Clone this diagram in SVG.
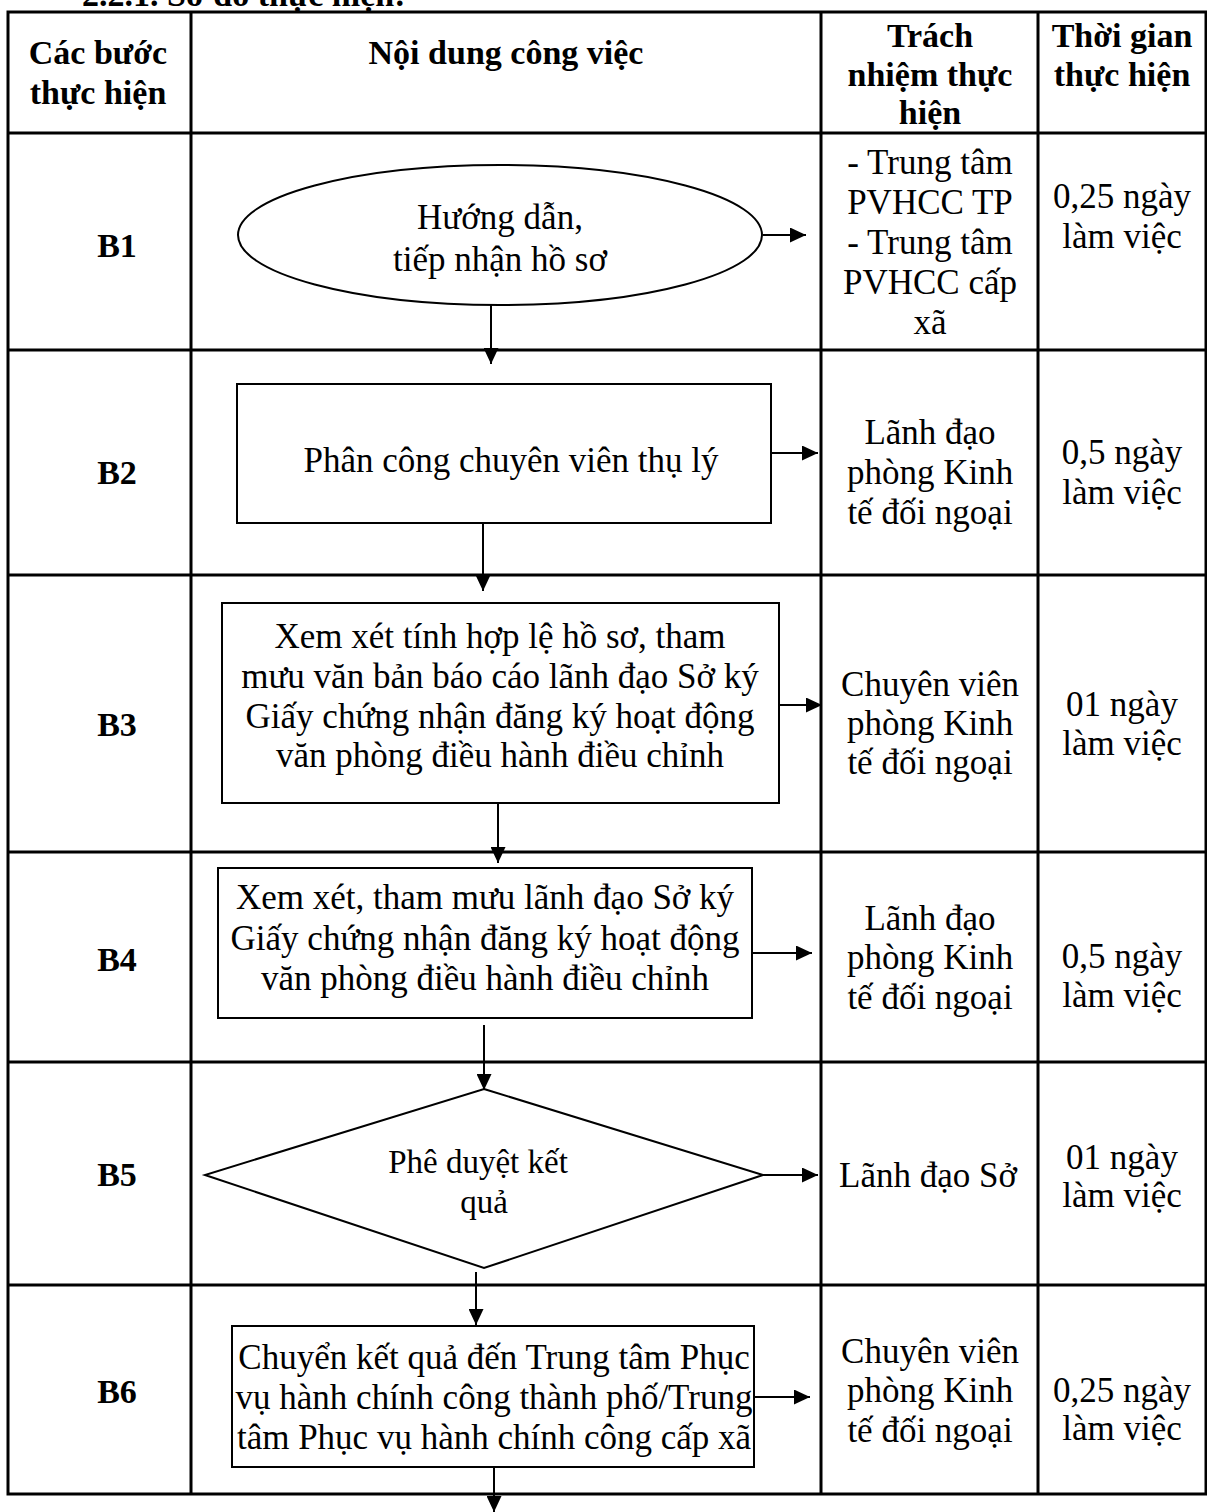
<svg xmlns="http://www.w3.org/2000/svg" width="1207" height="1512" viewBox="0 0 1207 1512">
<defs>
<marker id="ah" markerUnits="userSpaceOnUse" markerWidth="17" markerHeight="15" refX="16" refY="7.5" orient="auto">
<path d="M0,0 L16,7.5 L0,15 Z" fill="#000"/>
</marker>
<style>
.t{font-family:"Liberation Serif","Times New Roman",serif;font-size:35px;fill:#000;text-anchor:middle}
.b{font-weight:bold;font-size:34px}
.grid{stroke:#000;stroke-width:3;fill:none}
.shape{stroke:#000;stroke-width:2;fill:#fff}
.conn{stroke:#000;stroke-width:2;fill:none;marker-end:url(#ah)}
</style>
</defs>
<rect width="1207" height="1512" fill="#fff"/>
<text class="t b" x="82" y="6" style="text-anchor:start">2.2.1. Sơ đồ thực hiện:</text>
<g id="table">
<rect class="grid" x="8" y="12" width="1198" height="1482"/>
<line class="grid" x1="191" y1="12" x2="191" y2="1494"/>
<line class="grid" x1="821" y1="12" x2="821" y2="1494"/>
<line class="grid" x1="1038" y1="12" x2="1038" y2="1494"/>
<line class="grid" x1="8" y1="133" x2="1206" y2="133"/>
<line class="grid" x1="8" y1="350" x2="1206" y2="350"/>
<line class="grid" x1="8" y1="575" x2="1206" y2="575"/>
<line class="grid" x1="8" y1="852" x2="1206" y2="852"/>
<line class="grid" x1="8" y1="1062" x2="1206" y2="1062"/>
<line class="grid" x1="8" y1="1285" x2="1206" y2="1285"/>
</g>
<g id="header">
<text class="t b" x="98" y="64">Các bước</text>
<text class="t b" x="98" y="104">thực hiện</text>
<text class="t b" x="506" y="64">Nội dung công việc</text>
<text class="t b" x="930" y="47">Trách</text>
<text class="t b" x="930" y="86">nhiệm thực</text>
<text class="t b" x="930" y="124">hiện</text>
<text class="t b" x="1122" y="47">Thời gian</text>
<text class="t b" x="1122" y="86">thực hiện</text>
</g>
<g id="steps">
<text class="t b" x="117" y="257">B1</text>
<text class="t b" x="117" y="484">B2</text>
<text class="t b" x="117" y="736">B3</text>
<text class="t b" x="117" y="971">B4</text>
<text class="t b" x="117" y="1186">B5</text>
<text class="t b" x="117" y="1403">B6</text>
</g>
<g id="connectors">
<line class="conn" x1="763" y1="235" x2="806" y2="235"/>
<line class="conn" x1="491" y1="305" x2="491" y2="364"/>
<line class="conn" x1="771" y1="453" x2="818" y2="453"/>
<line class="conn" x1="483" y1="523" x2="483" y2="591"/>
<line class="conn" x1="779" y1="705" x2="822" y2="705"/>
<line class="conn" x1="498" y1="803" x2="498" y2="863"/>
<line class="conn" x1="752" y1="953" x2="812" y2="953"/>
<line class="conn" x1="484" y1="1025" x2="484" y2="1090"/>
<line class="conn" x1="763" y1="1175" x2="818" y2="1175"/>
<line class="conn" x1="476" y1="1272" x2="476" y2="1325"/>
<line class="conn" x1="754" y1="1397" x2="810" y2="1397"/>
<line class="conn" x1="494" y1="1455" x2="494" y2="1512"/>
</g>
<g id="n1">
<ellipse class="shape" cx="500" cy="235" rx="262" ry="70"/>
<text class="t" x="500" y="229">Hướng dẫn,</text>
<text class="t" x="500" y="271">tiếp nhận hồ sơ</text>
<text class="t" x="930" y="174">- Trung tâm</text>
<text class="t" x="930" y="214">PVHCC TP</text>
<text class="t" x="930" y="254">- Trung tâm</text>
<text class="t" x="930" y="294">PVHCC cấp</text>
<text class="t" x="930" y="334">xã</text>
<text class="t" x="1122" y="208">0,25 ngày</text>
<text class="t" x="1122" y="248">làm việc</text>
</g>
<g id="n2">
<rect class="shape" x="237" y="384" width="534" height="139"/>
<text class="t" x="511" y="472">Phân công chuyên viên thụ lý</text>
<text class="t" x="930" y="444">Lãnh đạo</text>
<text class="t" x="930" y="484">phòng Kinh</text>
<text class="t" x="930" y="524">tế đối ngoại</text>
<text class="t" x="1122" y="464">0,5 ngày</text>
<text class="t" x="1122" y="504">làm việc</text>
</g>
<g id="n3">
<rect class="shape" x="222" y="603" width="557" height="200"/>
<text class="t" x="500" y="648">Xem xét tính hợp lệ hồ sơ, tham</text>
<text class="t" x="500" y="688">mưu văn bản báo cáo lãnh đạo Sở ký</text>
<text class="t" x="500" y="728">Giấy chứng nhận đăng ký hoạt động</text>
<text class="t" x="500" y="767">văn phòng điều hành điều chỉnh</text>
<text class="t" x="930" y="696">Chuyên viên</text>
<text class="t" x="930" y="735">phòng  Kinh</text>
<text class="t" x="930" y="774">tế đối ngoại</text>
<text class="t" x="1122" y="716">01 ngày</text>
<text class="t" x="1122" y="755">làm việc</text>
</g>
<g id="n4">
<rect class="shape" x="218" y="868" width="534" height="150"/>
<text class="t" x="485" y="909">Xem xét, tham mưu lãnh đạo Sở ký</text>
<text class="t" x="485" y="950">Giấy chứng nhận đăng ký hoạt động</text>
<text class="t" x="485" y="990">văn phòng điều hành điều chỉnh</text>
<text class="t" x="930" y="930">Lãnh đạo</text>
<text class="t" x="930" y="969">phòng Kinh</text>
<text class="t" x="930" y="1009">tế đối ngoại</text>
<text class="t" x="1122" y="968">0,5 ngày</text>
<text class="t" x="1122" y="1007">làm việc</text>
</g>
<g id="n5">
<polygon class="shape" points="484,1089 763,1175 484,1268 205,1175"/>
<text class="t" x="478" y="1173" style="font-size:33px">Phê duyệt kết</text>
<text class="t" x="484" y="1213" style="font-size:33px">quả</text>
<text class="t" x="928" y="1187">Lãnh đạo Sở</text>
<text class="t" x="1122" y="1169">01 ngày</text>
<text class="t" x="1122" y="1207">làm việc</text>
</g>
<g id="n6">
<rect class="shape" x="232" y="1326" width="522" height="141"/>
<text class="t" x="494" y="1369">Chuyển kết quả đến Trung tâm Phục</text>
<text class="t" x="494" y="1409">vụ hành chính công thành phố/Trung</text>
<text class="t" x="494" y="1449">tâm Phục vụ hành chính công cấp xã</text>
<text class="t" x="930" y="1363">Chuyên viên</text>
<text class="t" x="930" y="1402">phòng  Kinh</text>
<text class="t" x="930" y="1442">tế đối ngoại</text>
<text class="t" x="1122" y="1402">0,25 ngày</text>
<text class="t" x="1122" y="1440">làm việc</text>
</g>
</svg>
